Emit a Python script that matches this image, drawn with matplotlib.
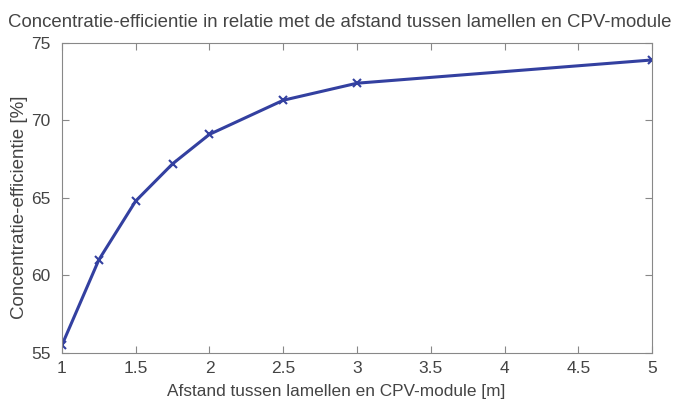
import numpy as np
import matplotlib.pyplot as plt

# afstand tussen lamellen en module [m] en gemeten efficientie [%]
afstand = [1, 1.25, 1.5, 1.75, 2, 2.5, 3, 5]
efficientie = [55.5, 61.0, 64.8, 67.2, 69.1, 71.3, 72.4, 73.9]

xticks = [1, 1.5, 2, 2.5, 3, 3.5, 4, 4.5, 5]
xticklabels = ['1', '1.5', '2', '2.5', '3', '3.5', '4', '4.5', '5']
yticks = [55, 60, 65, 70, 75]

plt.rcParams['font.family'] = 'Liberation Sans'
txt = '#444444'

fig = plt.figure(figsize=(6.73, 4.01), dpi=100)
ax = fig.add_axes([0.092, 0.12, 0.877, 0.773])

ax.plot(afstand, efficientie, color='#3340a0', lw=2.2, marker='x', ms=6, mew=1.5)

ax.set_xlim(1, 5)
ax.set_ylim(55, 75)
ax.set_xticks(xticks)
ax.set_xticklabels(xticklabels)
ax.set_yticks(yticks)
ax.tick_params(direction='in', top=True, right=True, length=5, color='#888888',
               labelsize=12.5, labelcolor=txt)
ax.tick_params(axis='x', pad=6)
ax.tick_params(axis='y', pad=8)
for sp in ax.spines.values():
    sp.set_color('#888888')

fig.text(0.505, 0.945, 'Concentratie-efficientie in relatie met de afstand tussen lamellen en CPV-module',
         fontsize=13.4, color=txt, ha='center', va='center')
ax.set_xlabel('Afstand tussen lamellen en CPV-module [m]', fontsize=12.4, color=txt, labelpad=1)
ax.xaxis.set_label_coords(0.465, -0.1)
ax.set_ylabel('Concentratie-efficientie [%]', fontsize=13.5, color=txt)
ax.yaxis.set_label_coords(-0.057, 0.47)

plt.savefig('out.png', dpi=100)
